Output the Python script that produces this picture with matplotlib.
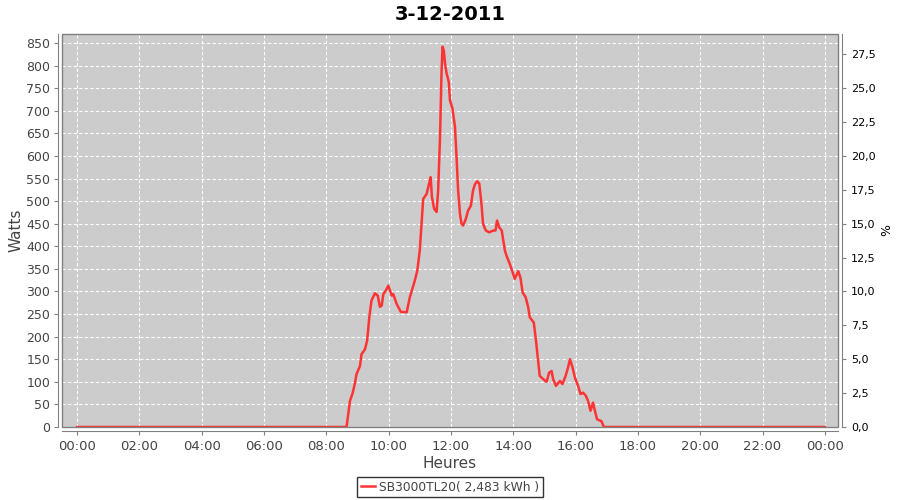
import matplotlib.pyplot as plt
from matplotlib.patches import Rectangle

# heures decimales / puissance en watts
heures = [0.0, 8.65, 8.76, 8.85, 8.92, 8.97, 9.08, 9.13, 9.24, 9.31, 9.38, 9.45,
          9.56, 9.65, 9.72, 9.78, 9.83, 9.91, 9.99, 10.04, 10.10, 10.15, 10.26,
          10.39, 10.58, 10.68, 10.84, 10.92, 11.00, 11.11, 11.22, 11.30, 11.35,
          11.39, 11.46, 11.54, 11.59, 11.65, 11.70, 11.73, 11.77, 11.81, 11.86,
          11.93, 11.97, 12.05, 12.13, 12.18, 12.23, 12.29, 12.34, 12.39, 12.48,
          12.55, 12.64, 12.71, 12.77, 12.84, 12.91, 12.98, 13.03, 13.12, 13.23,
          13.36, 13.43, 13.48, 13.55, 13.63, 13.73, 13.80, 13.89, 14.05, 14.16,
          14.23, 14.30, 14.40, 14.48, 14.53, 14.66, 14.73, 14.77, 14.85, 14.96,
          15.07, 15.15, 15.23, 15.28, 15.37, 15.50, 15.58, 15.68, 15.76, 15.82,
          15.89, 15.98, 16.08, 16.16, 16.24, 16.33, 16.40, 16.48, 16.56, 16.62,
          16.69, 16.83, 16.91, 24.0]
watts = [0, 0, 58, 76, 98, 117, 135, 161, 172, 191, 243, 280,
         296, 291, 266, 269, 294, 302, 313, 303, 291, 294, 272,
         255, 254, 287, 324, 346, 391, 505, 516, 539, 553,
         509, 483, 476, 524, 642, 790, 842, 834, 805, 783,
         764, 723, 705, 664, 598, 524, 472, 450, 446, 461,
         479, 490, 524, 537, 544, 539, 494, 450, 435, 431,
         435, 435, 457, 442, 435, 391, 376, 361, 328, 345,
         331, 298, 287, 265, 243, 231, 191, 165, 113, 106,
         100, 120, 124, 106, 91, 102, 95, 113, 132, 150,
         135, 109, 91, 73, 76, 69, 58, 36, 54, 36,
         17, 13, 0, 0]

heures_ticks = list(range(0, 25, 2))
heures_labels = ["00:00", "02:00", "04:00", "06:00", "08:00", "10:00", "12:00",
                 "14:00", "16:00", "18:00", "20:00", "22:00", "00:00"]
watts_ticks = list(range(0, 851, 50))
pct_ticks = [0, 2.5, 5, 7.5, 10, 12.5, 15, 17.5, 20, 22.5, 25, 27.5]
titre = "3-12-2011"
legende = "SB3000TL20( 2,483 kWh )"
puissance_nominale = 3000

fig = plt.figure(figsize=(9, 5), dpi=100)
ax = fig.add_axes([0.069, 0.146, 0.862, 0.786])
ax.set_facecolor("#cccccc")

ax.plot(heures, watts, color="#ff3333", lw=1.8, label=legende)

ymax = 870
ax.set_xlim(-0.48, 24.42)
ax.set_ylim(0, ymax)
ax.set_xticks(heures_ticks)
ax.set_xticklabels(heures_labels)
ax.set_yticks(watts_ticks)
ax.grid(True, color="white", linestyle=(0, (3, 2)), lw=0.8)
ax.set_axisbelow(True)

gris = "#444444"
ax.tick_params(colors="#808080", labelcolor=gris, labelsize=9.5, length=3)
ax.tick_params(axis="y", labelsize=9, pad=2.5)
for s in ["left", "bottom"]:
    ax.spines[s].set_position(("outward", 3))
    ax.spines[s].set_color("#808080")
ax.spines["top"].set_visible(False)
ax.spines["right"].set_visible(False)
ax.add_patch(Rectangle((0, 0), 1, 1, transform=ax.transAxes, fill=False,
                       edgecolor="#808080", lw=1, clip_on=False, zorder=5))

ax.set_ylabel("Watts", fontsize=11, color=gris, labelpad=0)
ax.yaxis.set_label_coords(-0.05, 0.5)
ax.set_xlabel("Heures", fontsize=11, color=gris, labelpad=2)

ax2 = ax.twinx()
ax2.set_ylim(0, ymax / puissance_nominale * 100)
ax2.set_yticks(pct_ticks)
ax2.set_yticklabels([f"{v:.1f}".replace(".", ",") for v in pct_ticks])
ax2.tick_params(colors="#808080", labelcolor="black", labelsize=8, length=3)
for s in ["left", "bottom", "top"]:
    ax2.spines[s].set_visible(False)
ax2.spines["right"].set_position(("outward", 3))
ax2.spines["right"].set_color("#808080")
ax2.set_ylabel("%", fontsize=9, color="black")
ax2.yaxis.set_label_coords(1.054, 0.5)

fig.suptitle(titre, fontsize=14, fontweight="bold", y=0.99)

leg = fig.legend(loc="center", bbox_to_anchor=(0.5, 0.026), fontsize=8.8,
                 frameon=True, fancybox=False, handlelength=1.2,
                 borderpad=0.3, handletextpad=0.3, labelcolor=gris)
leg.get_frame().set_edgecolor("black")
leg.get_frame().set_linewidth(1)

plt.savefig("out.png", dpi=100)
plt.close()
